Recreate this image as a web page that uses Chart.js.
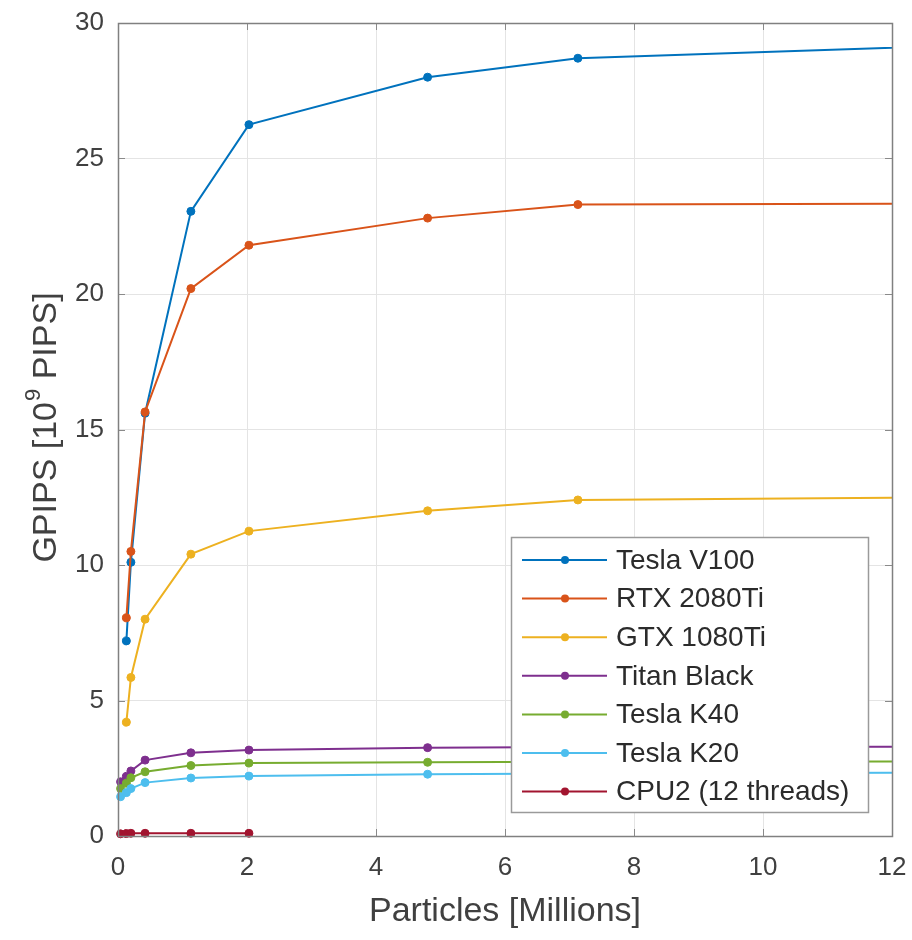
<!DOCTYPE html>
<html>
<head>
<meta charset="utf-8">
<script src="https://cdn.jsdelivr.net/npm/chart.js@4.4.0/dist/chart.umd.min.js"></script>
<style>
  html, body { margin: 0; padding: 0; background: #ffffff; }
  #wrap { width: 912px; height: 940px; position: relative; }
</style>
</head>
<body>
<div id="wrap"><canvas id="c" width="912" height="940"></canvas></div>
<script>
// ---- data ----
const xNew = [0.13, 0.2, 0.42, 1.13, 2.03, 4.8, 7.13, 16];
const xOld = [0.04, 0.13, 0.2, 0.42, 1.13, 2.03, 4.8, 7.13, 16];
const xCpu = [0.04, 0.13, 0.2, 0.42, 1.13, 2.03];

const teslaV100  = [7.2, 10.1, 15.6, 23.05, 26.25, 28.0, 28.7, 29.4];
const rtx2080Ti  = [8.05, 10.5, 15.65, 20.2, 21.8, 22.8, 23.3, 23.35];
const gtx1080Ti  = [4.2, 5.85, 8.0, 10.4, 11.25, 12.0, 12.4, 12.55];
const titanBlack = [2.0, 2.2, 2.4, 2.8, 3.07, 3.17, 3.26, 3.28, 3.3];
const teslaK40   = [1.75, 1.95, 2.15, 2.37, 2.6, 2.69, 2.72, 2.74, 2.75];
const teslaK20   = [1.45, 1.6, 1.75, 1.97, 2.14, 2.21, 2.28, 2.31, 2.35];
const cpu2       = [0.08, 0.09, 0.1, 0.1, 0.1, 0.1];

const seriesNames = ['Tesla V100', 'RTX 2080Ti', 'GTX 1080Ti', 'Titan Black', 'Tesla K40', 'Tesla K20', 'CPU2 (12 threads)'];
const xTicks = [0, 2, 4, 6, 8, 10, 12];
const yTicks = [0, 5, 10, 15, 20, 25, 30];
const xTitle = 'Particles [Millions]';
const yTitleParts = ['GPIPS [10', '9', ' PIPS]'];

const colors = ['#0072BD', '#D95319', '#EDB120', '#7E2F8E', '#77AC30', '#4DBEEE', '#A2142F'];

function pts(xs, ys) { return ys.map((y, i) => ({ x: xs[i], y: y })); }

const seriesData = [
  pts(xNew, teslaV100), pts(xNew, rtx2080Ti), pts(xNew, gtx1080Ti),
  pts(xOld, titanBlack), pts(xOld, teslaK40), pts(xOld, teslaK20), pts(xCpu, cpu2)
];

const datasets = seriesData.map((d, i) => ({
  label: seriesNames[i],
  data: d,
  borderColor: colors[i],
  backgroundColor: colors[i],
  pointBackgroundColor: colors[i],
  pointBorderColor: colors[i],
  borderWidth: 2,
  pointRadius: 4,
  pointBorderWidth: 1,
  tension: 0,
  fill: false,
  clip: { left: 6, top: 0, right: 0, bottom: 6 }
})).reverse(); // draw CPU first so V100 ends on top

const FONT = '"Liberation Sans", Arial, sans-serif';
const TEXT = '#404040';

const frame = {
  id: 'frame',
  beforeDatasetsDraw(chart) {
    const { ctx, chartArea: a, scales } = chart;
    ctx.save();
    ctx.strokeStyle = '#8a8a8a';
    ctx.lineWidth = 1;
    const tl = 7;
    ctx.beginPath();
    xTicks.forEach(v => {
      const px = Math.round(scales.x.getPixelForValue(v)) + 0.5;
      ctx.moveTo(px, a.bottom); ctx.lineTo(px, a.bottom - tl);
      ctx.moveTo(px, a.top); ctx.lineTo(px, a.top + tl);
    });
    yTicks.forEach(v => {
      const py = Math.round(scales.y.getPixelForValue(v)) + 0.5;
      ctx.moveTo(a.left, py); ctx.lineTo(a.left + tl, py);
      ctx.moveTo(a.right, py); ctx.lineTo(a.right - tl, py);
    });
    ctx.stroke();
    ctx.restore();
  },
  afterDatasetsDraw(chart) {
    const { ctx, chartArea: a } = chart;
    ctx.save();
    ctx.strokeStyle = '#808080';
    ctx.lineWidth = 1.5;
    ctx.strokeRect(Math.round(a.left) + 0.5, Math.round(a.top) + 0.5,
                   Math.round(a.right - a.left), Math.round(a.bottom - a.top));
    ctx.restore();
  },
  afterDraw(chart) {
    const { ctx, chartArea: a } = chart;
    ctx.save();
    ctx.fillStyle = TEXT;
    ctx.font = '34px ' + FONT;
    ctx.textAlign = 'center';
    ctx.textBaseline = 'middle';
    ctx.fillText(xTitle, (a.left + a.right) / 2, 912);

    // y title with superscript
    ctx.translate(47, 428);
    ctx.rotate(-Math.PI / 2);
    ctx.textAlign = 'left';
    ctx.textBaseline = 'middle';
    const big = '34px ' + FONT, small = '22px ' + FONT;
    ctx.font = big; const w1 = ctx.measureText(yTitleParts[0]).width;
    ctx.font = small; const w2 = ctx.measureText(yTitleParts[1]).width;
    ctx.font = big; const w3 = ctx.measureText(yTitleParts[2]).width;
    const x0 = -(w1 + w2 + w3) / 2;
    ctx.font = big; ctx.fillText(yTitleParts[0], x0, 0);
    ctx.font = small; ctx.fillText(yTitleParts[1], x0 + w1 + 1, -13);
    ctx.font = big; ctx.fillText(yTitleParts[2], x0 + w1 + w2 + 1, 0);
    ctx.restore();

    // legend
    ctx.save();
    const lx = 511, ly = 537, lw = 357, lh = 275;
    ctx.fillStyle = '#ffffff';
    ctx.fillRect(lx, ly, lw, lh);
    ctx.strokeStyle = '#9a9a9a';
    ctx.lineWidth = 1.5;
    ctx.strokeRect(lx + 0.5, ly + 0.5, lw, lh);
    ctx.font = '28px ' + FONT;
    ctx.textAlign = 'left';
    ctx.textBaseline = 'middle';
    seriesNames.forEach((name, i) => {
      const y = 560 + i * 38.6;
      ctx.strokeStyle = colors[i];
      ctx.lineWidth = 2;
      ctx.beginPath(); ctx.moveTo(522, y); ctx.lineTo(607, y); ctx.stroke();
      ctx.fillStyle = colors[i];
      ctx.beginPath(); ctx.arc(565, y, 4, 0, Math.PI * 2); ctx.fill();
      ctx.fillStyle = '#2b2b2b';
      ctx.fillText(name, 616, y + 1);
    });
    ctx.restore();
  }
};

new Chart(document.getElementById('c'), {
  type: 'line',
  data: { datasets: datasets },
  options: {
    responsive: false,
    animation: false,
    devicePixelRatio: 1,
    layout: { padding: { left: 0, right: 20, top: 23, bottom: 0 } },
    plugins: { legend: { display: false }, tooltip: { enabled: false } },
    scales: {
      x: {
        type: 'linear', min: 0, max: 12,
        afterBuildTicks(s) { s.ticks = xTicks.map(v => ({ value: v })); },
        afterFit(s) { s.height = 104; s.paddingLeft = 0; s.paddingRight = 0; },
        grid: { color: '#e4e4e4', lineWidth: 1, drawTicks: false },
        border: { display: false },
        ticks: { color: TEXT, font: { family: FONT, size: 26 }, padding: 16, maxRotation: 0 }
      },
      y: {
        type: 'linear', min: 0, max: 30,
        afterBuildTicks(s) { s.ticks = yTicks.map(v => ({ value: v })); },
        afterFit(s) { s.width = 118; s.paddingTop = 0; s.paddingBottom = 0; },
        grid: { color: '#e4e4e4', lineWidth: 1, drawTicks: false },
        border: { display: false },
        ticks: { color: TEXT, font: { family: FONT, size: 26 }, padding: 14 }
      }
    }
  },
  plugins: [frame]
});
</script>
</body>
</html>
